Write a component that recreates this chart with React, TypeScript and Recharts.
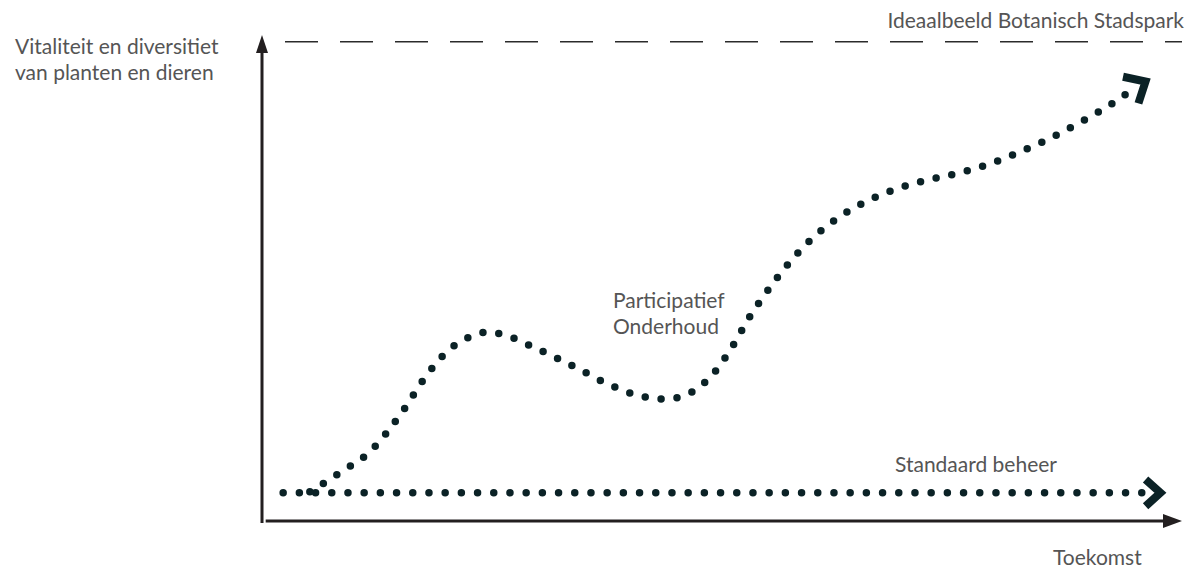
import React from 'react';
import { LineChart, Line, XAxis, YAxis, ReferenceLine } from 'recharts';

// waarden in % van de assen (0 = oorsprong, 100 = pijlpunt)
const participatiefX = [5.2, 8.6, 11.7, 15.0, 17.9, 20.2, 23.2, 24.6, 26.3, 29.7, 34.6, 37.8, 41.2, 43.9, 46.5, 49.0, 51.1, 53.0, 55.0, 57.2, 59.6, 62.4, 65.5, 68.9, 72.4, 75.3, 78.8, 82.3, 85.5, 88.8, 92.0, 95.0];
const participatiefY = [6.0, 10.1, 14.2, 21.8, 30.0, 35.0, 38.3, 38.9, 38.3, 35.6, 31.1, 28.0, 25.7, 25.1, 26.3, 30.2, 35.8, 42.0, 47.5, 52.9, 57.8, 62.1, 65.6, 68.3, 70.2, 71.4, 73.3, 75.9, 78.6, 81.9, 85.4, 89.3];
const standaardX = [2.3, 95.7];
const standaardY = [5.8, 5.8];
const ideaalX = [2.5, 100];
const ideaalY = 98.6;

const participatiefData = participatiefX.map((x, i) => ({ x, y: participatiefY[i] }));
const standaardData = standaardX.map((x, i) => ({ x, y: standaardY[i] }));

const W = 1191;
const H = 569;
const axisColor = '#231f20';
const dotColor = '#0b2226';
const textColor = '#555555';
const font = 'Lato, "Open Sans", sans-serif';

// pijlkop (chevron) aan het eind van een stippellijn
const chevron = (last: number, angle: number, offset: number, arm: number) => (props: any) => {
  const { cx, cy, index } = props;
  if (index !== last || cx == null) return <g key={`d-${index}`} />;
  const a = (angle * Math.PI) / 180;
  const ax = cx + offset * Math.cos(a);
  const ay = cy + offset * Math.sin(a);
  const spread = (42 * Math.PI) / 180;
  const b1 = a + Math.PI - spread;
  const b2 = a + Math.PI + spread;
  const p1 = `${ax + arm * Math.cos(b1)},${ay + arm * Math.sin(b1)}`;
  const p2 = `${ax + arm * Math.cos(b2)},${ay + arm * Math.sin(b2)}`;
  return (
    <polyline
      key={`d-${index}`}
      points={`${p1} ${ax},${ay} ${p2}`}
      fill="none"
      stroke={dotColor}
      strokeWidth={8}
      strokeLinejoin="miter"
      strokeLinecap="butt"
    />
  );
};

const yAxisShape = (props: any) => {
  const { x1, y1, y2 } = props;
  const top = Math.min(y1, y2);
  const bottom = Math.max(y1, y2);
  return (
    <g>
      <line x1={x1} y1={bottom + 2} x2={x1} y2={top + 14} stroke={axisColor} strokeWidth={3} />
      <polygon points={`${x1},${top} ${x1 - 6},${top + 18} ${x1 + 6},${top + 18}`} fill={axisColor} />
    </g>
  );
};

const xAxisShape = (props: any) => {
  const { x1, y1, x2 } = props;
  const right = Math.max(x1, x2);
  const left = Math.min(x1, x2);
  return (
    <g>
      <line x1={left} y1={y1} x2={right - 14} y2={y1} stroke={axisColor} strokeWidth={3} />
      <polygon points={`${right},${y1} ${right - 19},${y1 - 7} ${right - 19},${y1 + 7}`} fill={axisColor} />
    </g>
  );
};

export default function App() {
  return (
    <div style={{ position: 'relative', width: W, height: H, background: '#fff' }}>
      <style>{`body{margin:0}`}</style>
      <LineChart width={W} height={H} margin={{ top: 35, right: 9, left: 262, bottom: 48 }}>
        <XAxis type="number" dataKey="x" domain={[0, 100]} hide allowDataOverflow />
        <YAxis type="number" dataKey="y" domain={[0, 100]} hide allowDataOverflow />
        <ReferenceLine
          segment={[{ x: ideaalX[0], y: ideaalY }, { x: ideaalX[1], y: ideaalY }]}
          stroke="#2b2b2b"
          strokeWidth={1.4}
          strokeDasharray="33 22"
        />
        <ReferenceLine segment={[{ x: 0, y: 0 }, { x: 0, y: 100 }]} shape={yAxisShape} />
        <ReferenceLine segment={[{ x: 0.4, y: 0 }, { x: 100, y: 0 }]} shape={xAxisShape} />
        <Line
          data={standaardData}
          dataKey="y"
          type="linear"
          stroke={dotColor}
          strokeWidth={7.5}
          strokeLinecap="round"
          strokeDasharray="0 16.2"
          dot={chevron(standaardData.length - 1, 0, 18, 20)}
          activeDot={false}
          isAnimationActive={false}
        />
        <Line
          data={participatiefData}
          dataKey="y"
          type="monotone"
          stroke={dotColor}
          strokeWidth={7.5}
          strokeLinecap="round"
          strokeDasharray="0 16"
          dot={chevron(participatiefData.length - 1, -30, 11, 23)}
          activeDot={false}
          isAnimationActive={false}
        />
      </LineChart>
      <svg
        width={W}
        height={H}
        style={{ position: 'absolute', left: 0, top: 0, pointerEvents: 'none' }}
        fontFamily={font}
        fontSize={21}
        fill={textColor}
      >
        <text x={15} y={54}>Vitaliteit en diversitiet</text>
        <text x={15} y={80}>van planten en dieren</text>
        <text x={1184} y={28} textAnchor="end">Ideaalbeeld Botanisch Stadspark</text>
        <text x={613} y={308}>Participatief</text>
        <text x={613} y={334}>Onderhoud</text>
        <text x={895} y={472}>Standaard beheer</text>
        <text x={1053} y={565}>Toekomst</text>
      </svg>
    </div>
  );
}
